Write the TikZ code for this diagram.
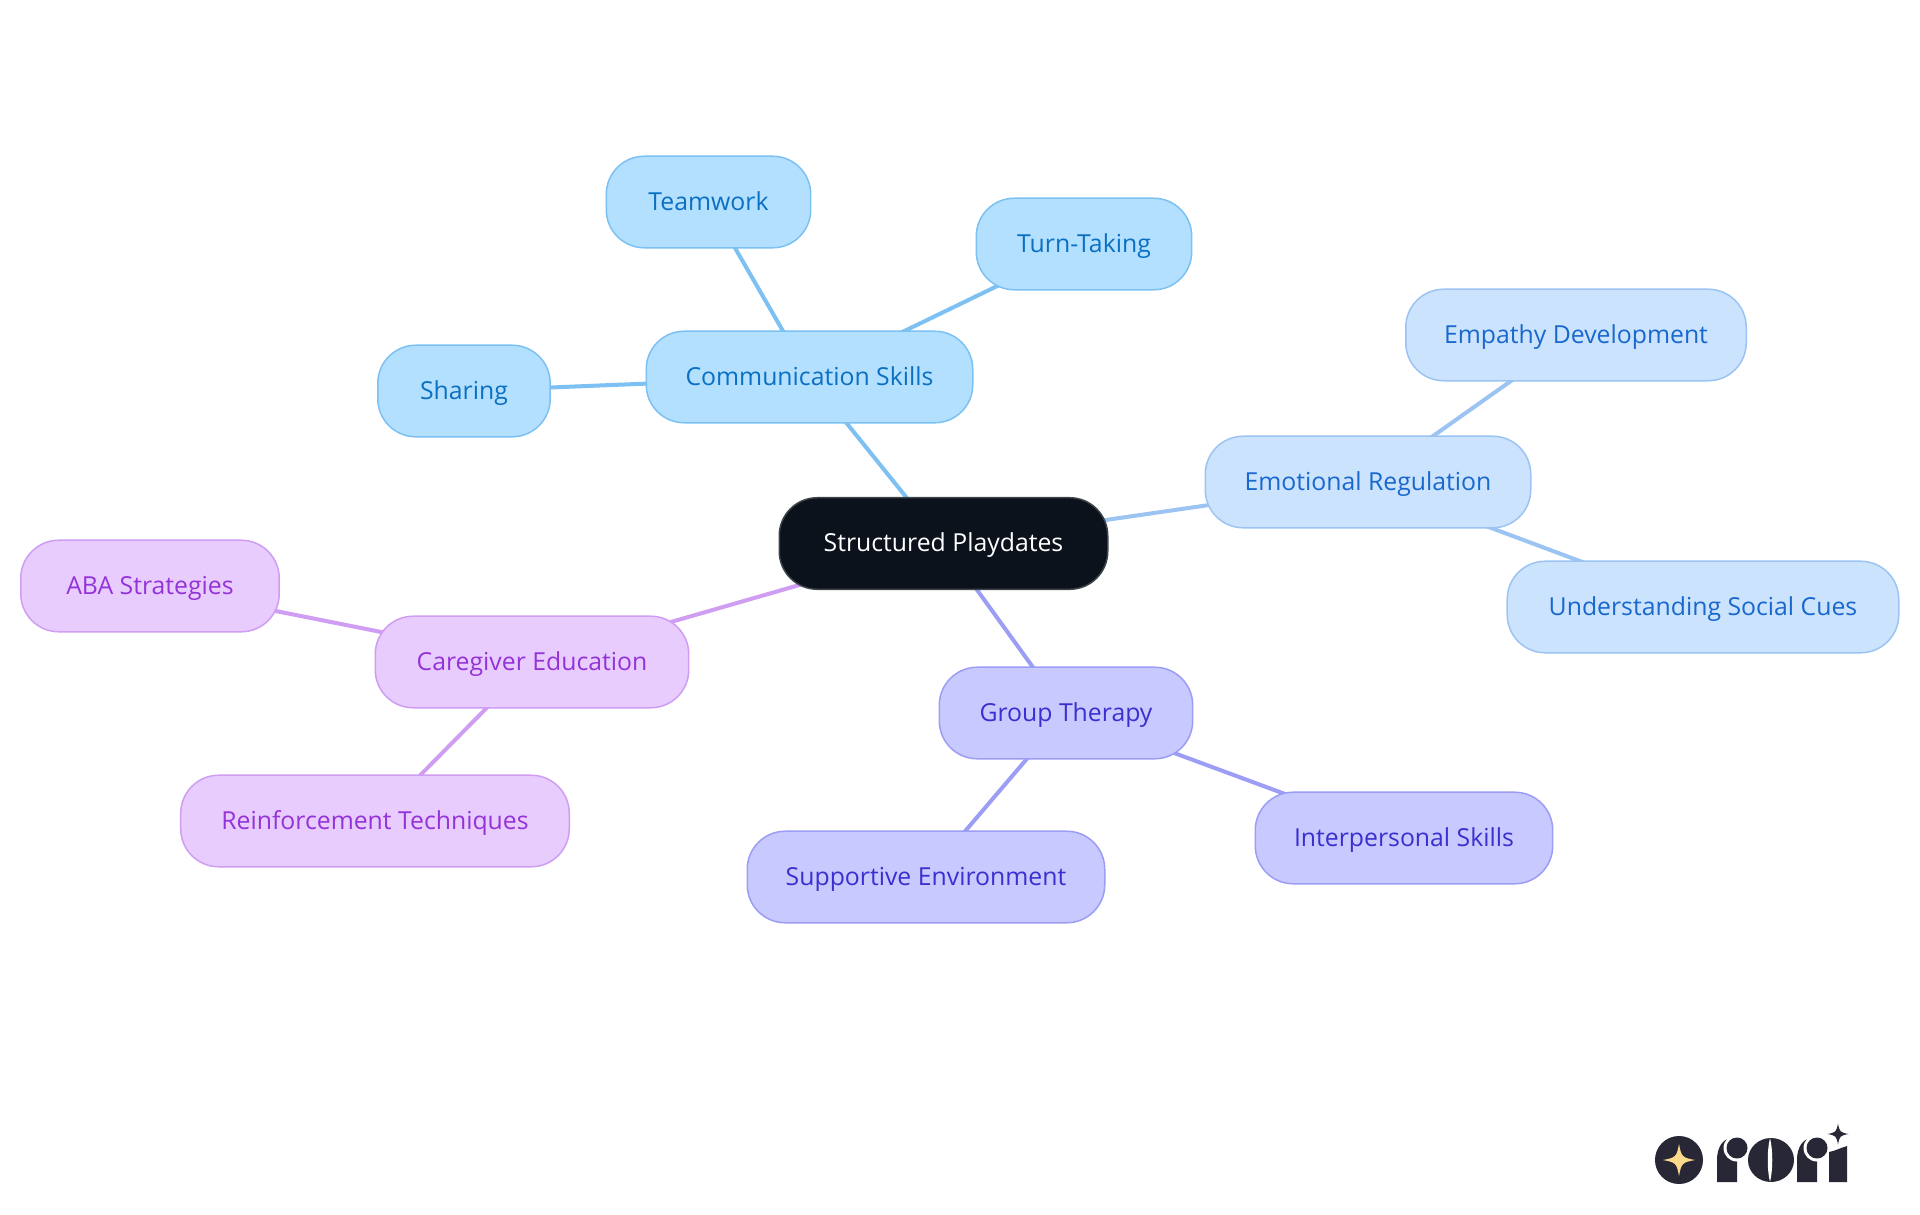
\documentclass[tikz,border=0pt]{standalone}
\usepackage{fontspec}
\setmainfont{Open Sans}
\usetikzlibrary{positioning, backgrounds}
\definecolor{rootfill}{HTML}{0B121B}
\definecolor{rootline}{HTML}{3F444B}
\definecolor{commfill}{HTML}{B3E0FF}
\definecolor{commline}{HTML}{7CC1F2}
\definecolor{commtext}{HTML}{0B6FC2}
\definecolor{emofill}{HTML}{CCE3FD}
\definecolor{emoline}{HTML}{9CC4F3}
\definecolor{emotext}{HTML}{1868CE}
\definecolor{groupfill}{HTML}{C8C9FE}
\definecolor{groupline}{HTML}{9C9DF4}
\definecolor{grouptext}{HTML}{3A2FD0}
\definecolor{carefill}{HTML}{E8CCFE}
\definecolor{careline}{HTML}{CF9EF2}
\definecolor{caretext}{HTML}{9333D8}
\definecolor{logodark}{HTML}{272736}
\definecolor{logostar}{HTML}{FBD98B}
\newcommand{\fourstar}[4]{%
\fill[#4] (#1-#3,#2) .. controls (#1-#3*0.2,#2-#3*0.15) and (#1-#3*0.15,#2-#3*0.2) .. (#1,#2-#3)
.. controls (#1+#3*0.15,#2-#3*0.2) and (#1+#3*0.2,#2-#3*0.15) .. (#1+#3,#2)
.. controls (#1+#3*0.2,#2+#3*0.15) and (#1+#3*0.15,#2+#3*0.2) .. (#1,#2+#3)
.. controls (#1-#3*0.15,#2+#3*0.2) and (#1-#3*0.2,#2+#3*0.15) .. (#1-#3,#2) -- cycle;}
\newcommand{\logor}[1]{%
\fill[logodark] (#1,1182) -- (#1,1160) .. controls (#1,1147) and (#1+6,1139) .. (#1+14,1138) -- (#1+20,1138) -- (#1+20,1182) -- cycle;
\fill[white] (#1+20,1148) circle (0.135cm);
\fill[white] (#1+20,1160) -- (#1+26,1160) -- (#1+26,1136) -- (#1+20,1136) -- cycle;
\fill[logodark] (#1+20,1148) circle (0.105cm);
\fill[logodark] (#1+12,1165) -- (#1+20,1165) -- (#1+20,1182) -- (#1+12,1182) -- cycle;}
\begin{document}
\begin{tikzpicture}[
	x = 0.01cm, y = -0.01cm,
	mapnode/.style = {rectangle, rounded corners = 0.38cm, line width = 0.015cm, text centered, inner sep = 0pt, minimum height = 0.915cm, text height = 5.85pt, text depth = 1.05pt, font = \fontsize{7.05}{8}\selectfont},
	rootnode/.style = {mapnode, fill = rootfill, draw = rootline, text = white},
	commnode/.style = {mapnode, fill = commfill, draw = commline, text = commtext},
	emonode/.style = {mapnode, fill = emofill, draw = emoline, text = emotext},
	groupnode/.style = {mapnode, fill = groupfill, draw = groupline, text = grouptext},
	carenode/.style = {mapnode, fill = carefill, draw = careline, text = caretext},
	link/.style = {line width = 0.04cm},
]
\useasboundingbox (0,0) rectangle (1920,1215);

\node[rootnode, minimum width = 3.283cm](Root) at (943.5,543.5){Structured Playdates};

\node[commnode, minimum width = 3.263cm](Comm) at (809.5,377){Communication Skills};
\node[commnode, minimum width = 2.043cm](Team) at (708.5,202){Teamwork};
\node[commnode, minimum width = 2.153cm](Turn) at (1084,244){Turn-Taking};
\node[commnode, minimum width = 1.723cm](Share) at (464,391){Sharing};

\node[emonode, minimum width = 3.253cm](Emo) at (1368,482){Emotional Regulation};
\node[emonode, minimum width = 3.403cm](Empathy) at (1576,335){Empathy Development};
\node[emonode, minimum width = 3.913cm](Cues) at (1703,607){Understanding Social Cues};

\node[groupnode, minimum width = 2.533cm](Group) at (1066,713){Group Therapy};
\node[groupnode, minimum width = 2.973cm](Inter) at (1404,838){Interpersonal Skills};
\node[groupnode, minimum width = 3.573cm](Support) at (926,877){Supportive Environment};

\node[carenode, minimum width = 3.133cm](Care) at (532,662){Caregiver Education};
\node[carenode, minimum width = 2.583cm](ABA) at (150,586){ABA Strategies};
\node[carenode, minimum width = 3.883cm](Reinf) at (375,821){Reinforcement Techniques};

\begin{scope}[on background layer]
\fill[white] (0,0) rectangle (1920,1215);
\draw[link, commline](Root.center)--(Comm.center);
\draw[link, commline](Comm.center)--(Team.center);
\draw[link, commline](Comm.center)--(Turn.center);
\draw[link, commline](Comm.center)--(Share.center);
\draw[link, emoline](Root.center)--(Emo.center);
\draw[link, emoline](Emo.center)--(Empathy.center);
\draw[link, emoline](Emo.center)--(Cues.center);
\draw[link, groupline](Root.center)--(Group.center);
\draw[link, groupline](Group.center)--(Inter.center);
\draw[link, groupline](Group.center)--(Support.center);
\draw[link, careline](Root.center)--(Care.center);
\draw[link, careline](Care.center)--(ABA.center);
\draw[link, careline](Care.center)--(Reinf.center);
\end{scope}

% logo
\fill[logodark] (1679,1160) circle (0.24cm);
\fourstar{1679}{1160}{16}{logostar}
\logor{1717}
\fill[logodark] (1771,1160) ellipse (0.23cm and 0.22cm);
\fill[white] (1770,1138) .. controls (1767,1150) and (1767,1170) .. (1770,1182) .. controls (1773,1170) and (1773,1150) .. (1770,1138) -- cycle;
\logor{1797}
\fill[logodark] (1829,1182) -- (1829,1152) .. controls (1835,1151) and (1840,1148) .. (1847,1146) -- (1847,1182) -- cycle;
\fourstar{1838}{1134}{10.5}{logodark}
\end{tikzpicture}
\end{document}
